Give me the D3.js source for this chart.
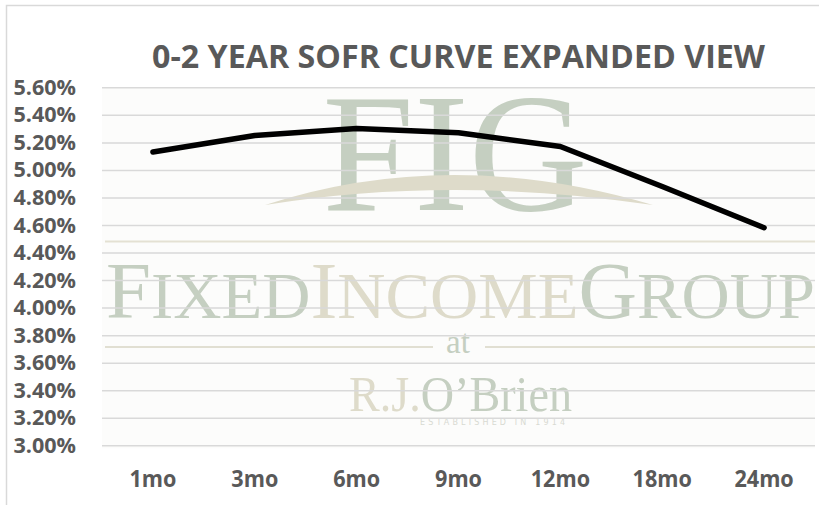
<!DOCTYPE html>
<html>
<head>
<meta charset="utf-8">
<script src="https://cdn.jsdelivr.net/npm/d3@7"></script>
<style>
	body { margin: 0; background: #fff; }
	svg { display: block; }
</style>
</head>
<body>
<div id="chart"></div>
<script>
//-------------------------------------
// data
//-------------------------------------
var categories = ["1mo", "3mo", "6mo", "9mo", "12mo", "18mo", "24mo"];
var rates = [5.13, 5.25, 5.30, 5.27, 5.17, 4.88, 4.58];
var yTicks = [3.00, 3.20, 3.40, 3.60, 3.80, 4.00, 4.20, 4.40, 4.60, 4.80, 5.00, 5.20, 5.40, 5.60];
var title = "0-2 YEAR SOFR CURVE EXPANDED VIEW";

//-------------------------------------
// field
//-------------------------------------
var width = 819;
var height = 505;
var plot = { left: 102, right: 815, top: 87.3, bottom: 445.3 };
var green = "#c5cfc1";
var beige = "#dedbca";
var labelFont = "'Open Sans', Lato, sans-serif";

var svg = d3.select("#chart")
	.append("svg")
	.attr("width", width)
	.attr("height", height);

// outer frame
svg.append("path")
	.attr("d", "M6.5," + height + "V5.5H" + width)
	.attr("fill", "none")
	.attr("stroke", "#d9d9d9")
	.attr("stroke-width", 1.5);

var x = d3.scaleBand().domain(categories).range([plot.left, plot.right]);
var y = d3.scaleLinear().domain([3.0, 5.6]).range([plot.bottom, plot.top]);

// plot area background
svg.append("rect")
	.attr("x", plot.left)
	.attr("y", plot.top)
	.attr("width", plot.right - plot.left)
	.attr("height", plot.bottom - plot.top + 3)
	.attr("fill", "#fcfcfb");

//-------------------------------------
// watermark
//-------------------------------------
var wm = svg.append("g").attr("font-family", "'Liberation Serif', 'DejaVu Serif', serif");

wm.append("text")
	.attr("x", 455).attr("y", 210)
	.attr("text-anchor", "middle")
	.attr("font-size", 170)
	.attr("textLength", 265)
	.attr("lengthAdjust", "spacingAndGlyphs")
	.attr("fill", green)
	.text("FIG");

wm.append("path")
	.attr("d", "M265,205Q450,145 653,205Q450,175 265,205Z")
	.attr("fill", beige);

wm.append("line")
	.attr("x1", 105).attr("x2", 815)
	.attr("y1", 241.5).attr("y2", 241.5)
	.attr("stroke", "#e4e1d3")
	.attr("stroke-width", 2);

var fig = wm.append("text")
	.attr("x", 106).attr("y", 318)
	.attr("textLength", 709)
	.attr("lengthAdjust", "spacingAndGlyphs");

[
	["F", 80, green], ["IXED", 66, green],
	["I", 80, beige], ["NCOME", 66, beige],
	["G", 80, green], ["ROUP", 66, green]
].forEach(function(d) {
	fig.append("tspan")
		.attr("font-size", d[1])
		.attr("fill", d[2])
		.text(d[0]);
});

wm.append("text")
	.attr("x", 458).attr("y", 353)
	.attr("text-anchor", "middle")
	.attr("font-size", 33)
	.attr("fill", green)
	.text("at");

[[105, 433], [485, 815]].forEach(function(d) {
	wm.append("line")
		.attr("x1", d[0]).attr("x2", d[1])
		.attr("y1", 347).attr("y2", 347)
		.attr("stroke", "#e1dfd2")
		.attr("stroke-width", 2);
});

var rjo = wm.append("text")
	.attr("x", 349).attr("y", 411)
	.attr("font-size", 51)
	.attr("textLength", 223)
	.attr("lengthAdjust", "spacingAndGlyphs");
rjo.append("tspan").attr("fill", beige).text("R.J.");
rjo.append("tspan").attr("fill", green).text("O\u2019Brien");

wm.append("text")
	.attr("x", 420).attr("y", 425)
	.attr("font-family", "'DejaVu Sans', sans-serif")
	.attr("font-size", 8)
	.attr("textLength", 145)
	.attr("lengthAdjust", "spacing")
	.attr("fill", "#d8dad2")
	.text("ESTABLISHED IN 1914");

//-------------------------------------
// grid + axes
//-------------------------------------
var grid = svg.append("g")
	.attr("transform", "translate(" + plot.left + ",0)")
	.call(d3.axisLeft(y).tickValues(yTicks).tickSize(-(plot.right - plot.left)).tickFormat(""));
grid.select(".domain").remove();
grid.selectAll("line")
	.attr("stroke", "#d9d9d9")
	.attr("stroke-width", 1.5);

// narrow the label glyphs a bit (the original face is condensed)
function styleLabels(sel, size, squeeze) {
	sel.attr("font-family", labelFont)
		.attr("font-weight", "bold")
		.attr("font-size", size)
		.attr("fill", "#595959")
		.attr("lengthAdjust", "spacingAndGlyphs")
		.attr("textLength", function() { return this.getComputedTextLength() * squeeze; });
}

var yAxis = svg.append("g")
	.attr("transform", "translate(" + plot.left + ",0)")
	.call(d3.axisLeft(y).tickValues(yTicks).tickSize(0).tickPadding(26)
		.tickFormat(function(d) { return d.toFixed(2) + "%"; }));
yAxis.select(".domain").remove();
yAxis.selectAll("text").call(styleLabels, 22, 0.98);

var xAxis = svg.append("g")
	.attr("transform", "translate(0," + plot.bottom + ")")
	.call(d3.axisBottom(x).tickSize(0).tickPadding(25));
xAxis.select(".domain").remove();
xAxis.selectAll("text").call(styleLabels, 24, 0.9);

//-------------------------------------
// line
//-------------------------------------
var line = d3.line()
	.x(function(d, i) { return x(categories[i]) + x.bandwidth() / 2; })
	.y(function(d) { return y(d); });

svg.append("path")
	.datum(rates)
	.attr("d", line)
	.attr("fill", "none")
	.attr("stroke", "#000")
	.attr("stroke-width", 5.5)
	.attr("stroke-linecap", "round")
	.attr("stroke-linejoin", "round");

//-------------------------------------
// title
//-------------------------------------
svg.append("text")
	.attr("x", 152).attr("y", 68)
	.attr("font-family", labelFont)
	.attr("font-weight", "bold")
	.attr("font-size", 32)
	.attr("textLength", 613)
	.attr("lengthAdjust", "spacingAndGlyphs")
	.attr("fill", "#595959")
	.text(title);
</script>
</body>
</html>
